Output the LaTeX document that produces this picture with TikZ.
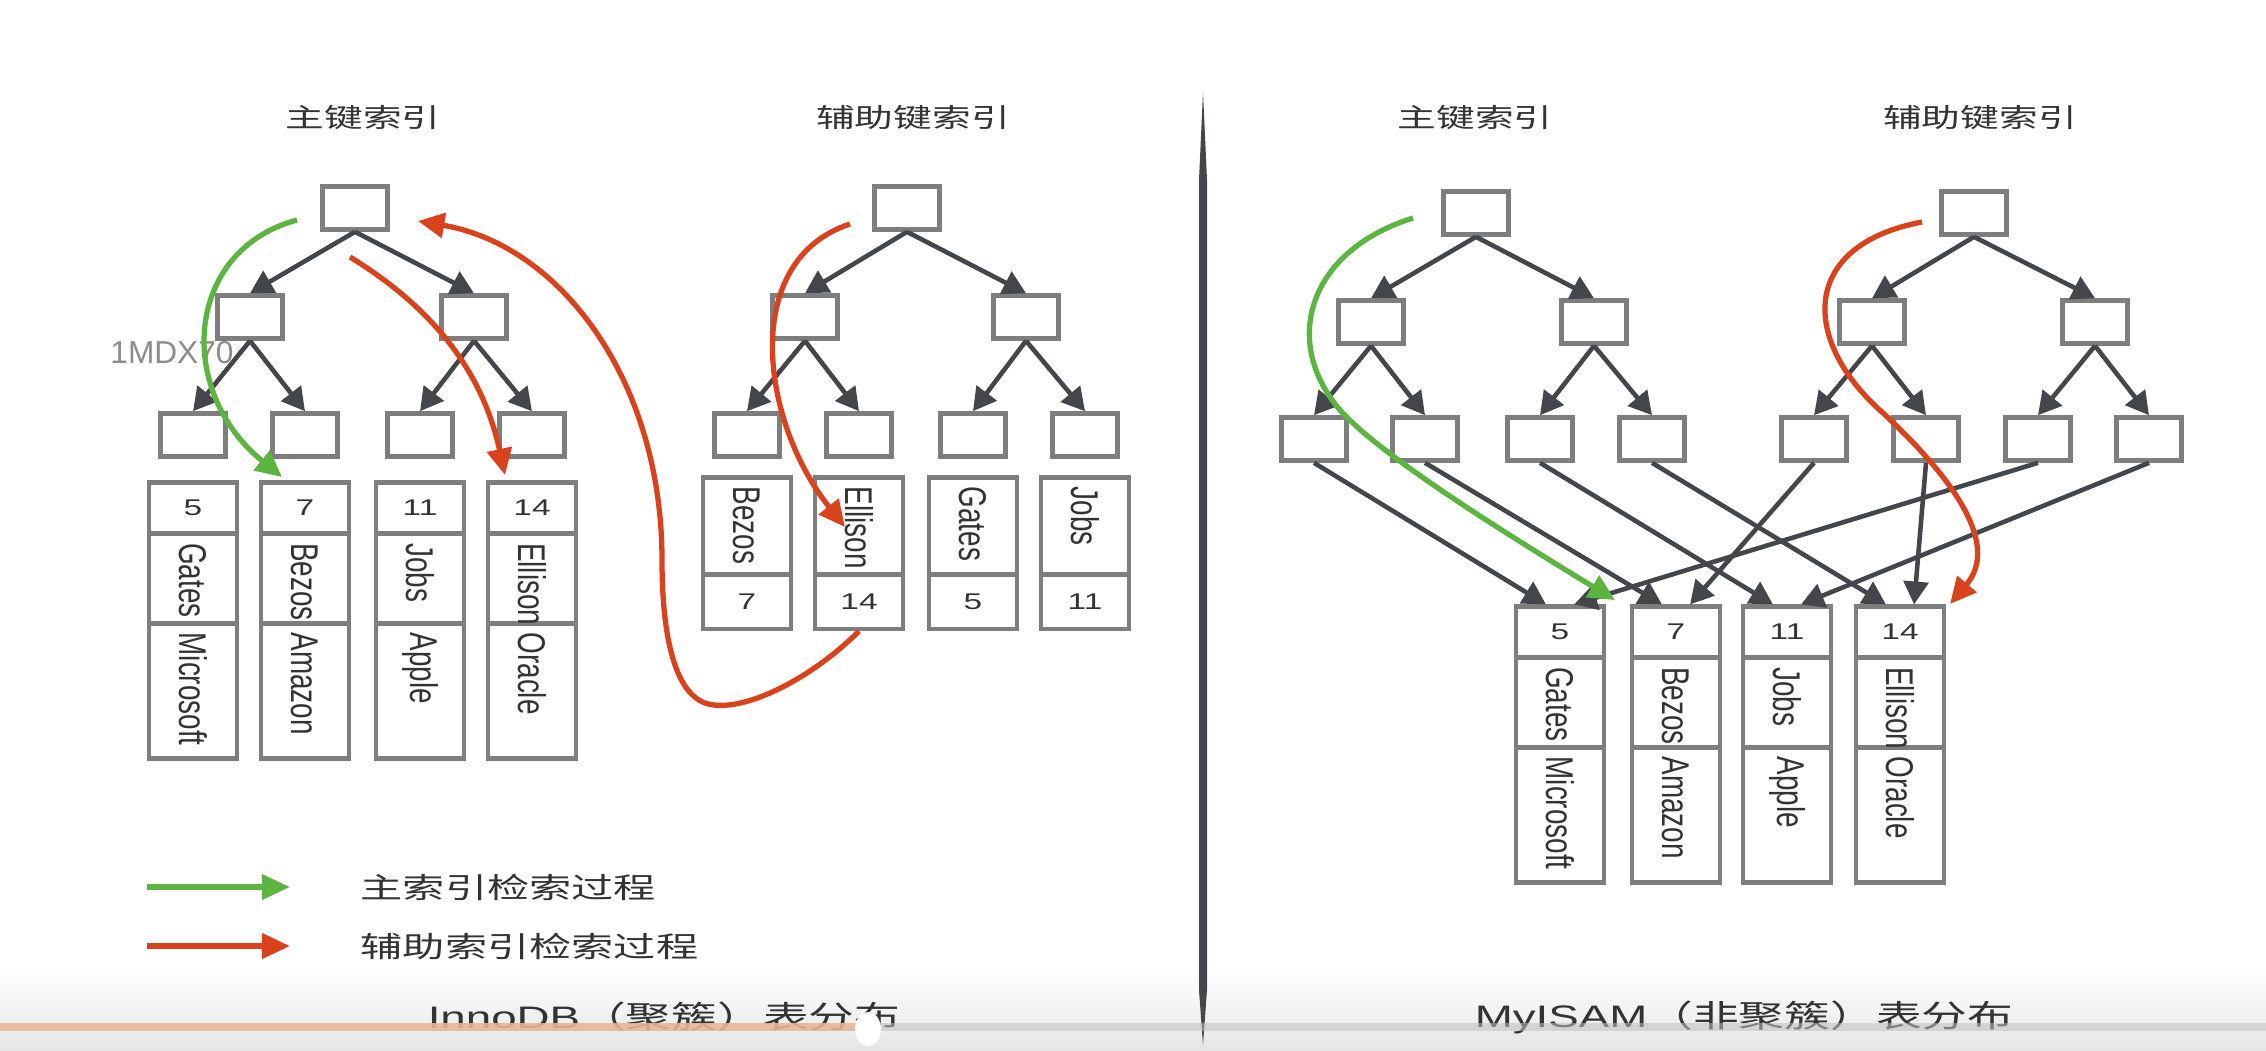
\documentclass[tikz,border=0pt]{standalone}
\usepackage{fontspec}
\setmainfont{Liberation Sans}
\newfontfamily\cjk{Noto Sans CJK SC}
\usetikzlibrary{arrows.meta}

\definecolor{boxgray}{HTML}{7E7E7E}
\definecolor{edgegray}{HTML}{43464A}
\definecolor{textgray}{HTML}{333333}
\definecolor{walkgreen}{HTML}{5DB541}
\definecolor{walkred}{HTML}{D8431E}
\definecolor{barorange}{HTML}{F2B48C}

% the screenshot is stretched sideways, so the text is squashed
\newcommand{\sqtext}[1]{\scalebox{1}[0.68]{#1}}
\newcommand{\vname}[1]{\rotatebox{-90}{\scalebox{0.72}[1]{#1}}}

\begin{document}
\begin{tikzpicture}[
    x=0.01cm, y=-0.01cm,
    every node/.style={text=textgray},
    tnode/.style={draw=boxgray, line width=1.3pt, fill=white, minimum width=0.65cm, minimum height=0.43cm, inner sep=0pt},
    cell/.style={draw=boxgray, line width=1.2pt, minimum width=0.88cm, inner sep=0pt},
    vtxt/.style={anchor=north, inner sep=3pt, font=\fontsize{11}{12}\selectfont},
    keytxt/.style={font=\fontsize{9.5}{10}\selectfont},
    headtxt/.style={font=\cjk\fontsize{11}{13}\selectfont},
    legtxt/.style={anchor=west, inner sep=0pt, font=\cjk\fontsize{12}{14}\selectfont},
    captxt/.style={font=\fontsize{13}{15}\selectfont},
    link/.style={draw=edgegray, line width=1.3pt, -{Triangle[length=6.5pt, width=7pt]}},
    walk/.style={line width=1.5pt, -{Triangle[length=7.5pt, width=7pt]}}
]

    % background, with the video player's shade at the bottom
    \fill[white] (0,0) rectangle (2266,1050);
    \useasboundingbox (0,0) rectangle (2266,1050);
    \shade[top color=white, bottom color=black!10] (0,970) rectangle (2266,1050);

    % ==========================
    % LEFT HALF: InnoDB
    % ==========================
    \begin{scope}
        % primary key tree
        \node[headtxt] (ptitle) at (363,118) {\sqtext{主键索引}};
        \node[tnode] (pa) at (355,208) {};
        \node[tnode] (pb1) at (250,317) {};
        \node[tnode] (pb2) at (474,317) {};
        \foreach \i/\x in {1/193, 2/305, 3/420, 4/532}
            \node[tnode] (pc\i) at (\x,435) {};
        \foreach \p/\c in {pa/pb1, pa/pb2, pb1/pc1, pb1/pc2, pb2/pc3, pb2/pc4}
            \draw[link] (\p.south) -- (\c.north);

        % whole rows hang under the leaves
        \foreach \i/\x/\k/\n/\c in {
            1/193/5/Gates/Microsoft,
            2/305/7/Bezos/Amazon,
            3/420/11/Jobs/Apple,
            4/532/14/Ellison/Oracle}
        {
            \node[cell, minimum height=0.51cm, keytxt] (pk\i) at (\x,508) {\sqtext{\k}};
            \node[cell, minimum height=0.90cm] (pn\i) at (\x,579) {};
            \node[cell, minimum height=1.35cm] (pv\i) at (\x,691) {};
            \node[vtxt] (pnt\i) at (pn\i.north) {\vname{\n}};
            \node[vtxt] (pvt\i) at (pv\i.north) {\vname{\c}};
        }

        % secondary key tree
        \node[headtxt] (stitle) at (913,118) {\sqtext{辅助键索引}};
        \node[tnode] (sa) at (907,208) {};
        \node[tnode] (sb1) at (805,317) {};
        \node[tnode] (sb2) at (1026,317) {};
        \foreach \i/\x in {1/747, 2/859, 3/973, 4/1085}
            \node[tnode] (sc\i) at (\x,435) {};
        \foreach \p/\c in {sa/sb1, sa/sb2, sb1/sc1, sb1/sc2, sb2/sc3, sb2/sc4}
            \draw[link] (\p.south) -- (\c.north);

        \foreach \i/\x/\n/\k in {1/747/Bezos/7, 2/859/Ellison/14, 3/973/Gates/5, 4/1085/Jobs/11} {
            \node[cell, minimum height=0.97cm] (sn\i) at (\x,526) {};
            \node[cell, minimum height=0.54cm, keytxt] (sk\i) at (\x,602) {\sqtext{\k}};
            \node[vtxt] (snt\i) at (sn\i.north) {\vname{\n}};
        }

        \node[font=\fontsize{9}{10}\selectfont, text=black!45] (mark) at (172,353) {1MDX70};

        % search paths
        \coordinate (gl0) at (297,220);
        \coordinate (gl1) at (282,477);
        \draw[walk, walkgreen] (gl0) .. controls (185,250) and (175,390) .. (gl1);

        \coordinate (rl0) at (350,257);
        \coordinate (rl1) at (505,475);
        \draw[walk, walkred] (rl0) .. controls (420,300) and (480,360) .. (rl1);

        \coordinate (rs0) at (850,224);
        \coordinate (rs1) at (845,527);
        \draw[walk, walkred] (rs0) .. controls (740,260) and (760,420) .. (rs1);

        \coordinate (rb1) at (418,221);
        \draw[walk, walkred] (sk2.south) .. controls (810,680) and (740,715) .. (705,703)
            .. controls (670,690) and (662,620) .. (662,560)
            .. controls (662,380) and (560,245) .. (rb1);

        % legend
        \coordinate (lg0) at (147,887);
        \coordinate (lg1) at (290,887);
        \coordinate (lr0) at (147,946);
        \coordinate (lr1) at (290,946);
        \draw[walkgreen, line width=1.6pt, -{Triangle[length=8pt, width=7pt]}] (lg0) -- (lg1);
        \draw[walkred, line width=1.6pt, -{Triangle[length=8pt, width=7pt]}] (lr0) -- (lr1);
        \node[legtxt] (lgtxt) at (360,887) {\sqtext{主索引检索过程}};
        \node[legtxt] (lrtxt) at (360,946) {\sqtext{辅助索引检索过程}};

        \node[captxt] (capl) at (664,1017) {\sqtext{InnoDB{\cjk（聚簇）表分布}}};
    \end{scope}

    % divider
    \fill[edgegray] (1203,92) -- (1207,180) -- (1207,990) -- (1203,1045)
        -- (1199,990) -- (1199,180) -- cycle;

    % ==========================
    % RIGHT HALF: MyISAM
    % ==========================
    \begin{scope}
        \node[headtxt] (rtitle) at (1475,118) {\sqtext{主键索引}};
        \node[tnode] (ra) at (1476,213) {};
        \node[tnode] (rb1) at (1371,322) {};
        \node[tnode] (rb2) at (1594,322) {};
        \foreach \i/\x in {1/1314, 2/1425, 3/1540, 4/1652}
            \node[tnode] (rc\i) at (\x,439) {};
        \foreach \p/\c in {ra/rb1, ra/rb2, rb1/rc1, rb1/rc2, rb2/rc3, rb2/rc4}
            \draw[link] (\p.south) -- (\c.north);

        \node[headtxt] (qtitle) at (1980,118) {\sqtext{辅助键索引}};
        \node[tnode] (qa) at (1974,213) {};
        \node[tnode] (qb1) at (1872,322) {};
        \node[tnode] (qb2) at (2095,322) {};
        \foreach \i/\x in {1/1814, 2/1926, 3/2038, 4/2149}
            \node[tnode] (qc\i) at (\x,439) {};
        \foreach \p/\c in {qa/qb1, qa/qb2, qb1/qc1, qb1/qc2, qb2/qc3, qb2/qc4}
            \draw[link] (\p.south) -- (\c.north);

        % the rows sit apart, both trees point into them
        \foreach \i/\x/\k/\n/\c in {
            1/1560/5/Gates/Microsoft,
            2/1676/7/Bezos/Amazon,
            3/1787/11/Jobs/Apple,
            4/1900/14/Ellison/Oracle}
        {
            \node[cell, minimum height=0.51cm, keytxt] (rk\i) at (\x,632) {\sqtext{\k}};
            \node[cell, minimum height=0.90cm] (rn\i) at (\x,703) {};
            \node[cell, minimum height=1.35cm] (rv\i) at (\x,815) {};
            \node[vtxt] (rnt\i) at (rn\i.north) {\vname{\n}};
            \node[vtxt] (rvt\i) at (rv\i.north) {\vname{\c}};
        }

        \foreach \c/\r/\s in {rc1/rk1/-4, rc2/rk2/-4, rc3/rk3/-4, rc4/rk4/-4,
                              qc1/rk2/4, qc2/rk4/4, qc3/rk1/4, qc4/rk3/4}
            \draw[link] (\c.south) -- ([xshift=\s pt]\r.north);

        % search paths
        \coordinate (gr0) at (1413,218);
        \coordinate (gr1) at (1615,600);
        \draw[walk, walkgreen] (gr0) .. controls (1310,250) and (1280,340) .. (1340,410)
            .. controls (1380,455) and (1500,530) .. (gr1);

        \coordinate (rr0) at (1922,222);
        \coordinate (rr1) at (1950,604);
        \draw[walk, walkred] (rr0) .. controls (1800,245) and (1800,340) .. (1883,413)
            .. controls (1955,480) and (2000,545) .. (rr1);

        \node[captxt] (capr) at (1744,1017) {\sqtext{MyISAM{\cjk（非聚簇）表分布}}};
    \end{scope}

    % player bar
    \fill[black!25, opacity=0.55] (0,1023) rectangle (2266,1031);
    \fill[barorange, opacity=0.75] (0,1023) rectangle (868,1031);
    \fill[white] (868,1029) ellipse (0.13cm and 0.17cm);

\end{tikzpicture}
\end{document}
